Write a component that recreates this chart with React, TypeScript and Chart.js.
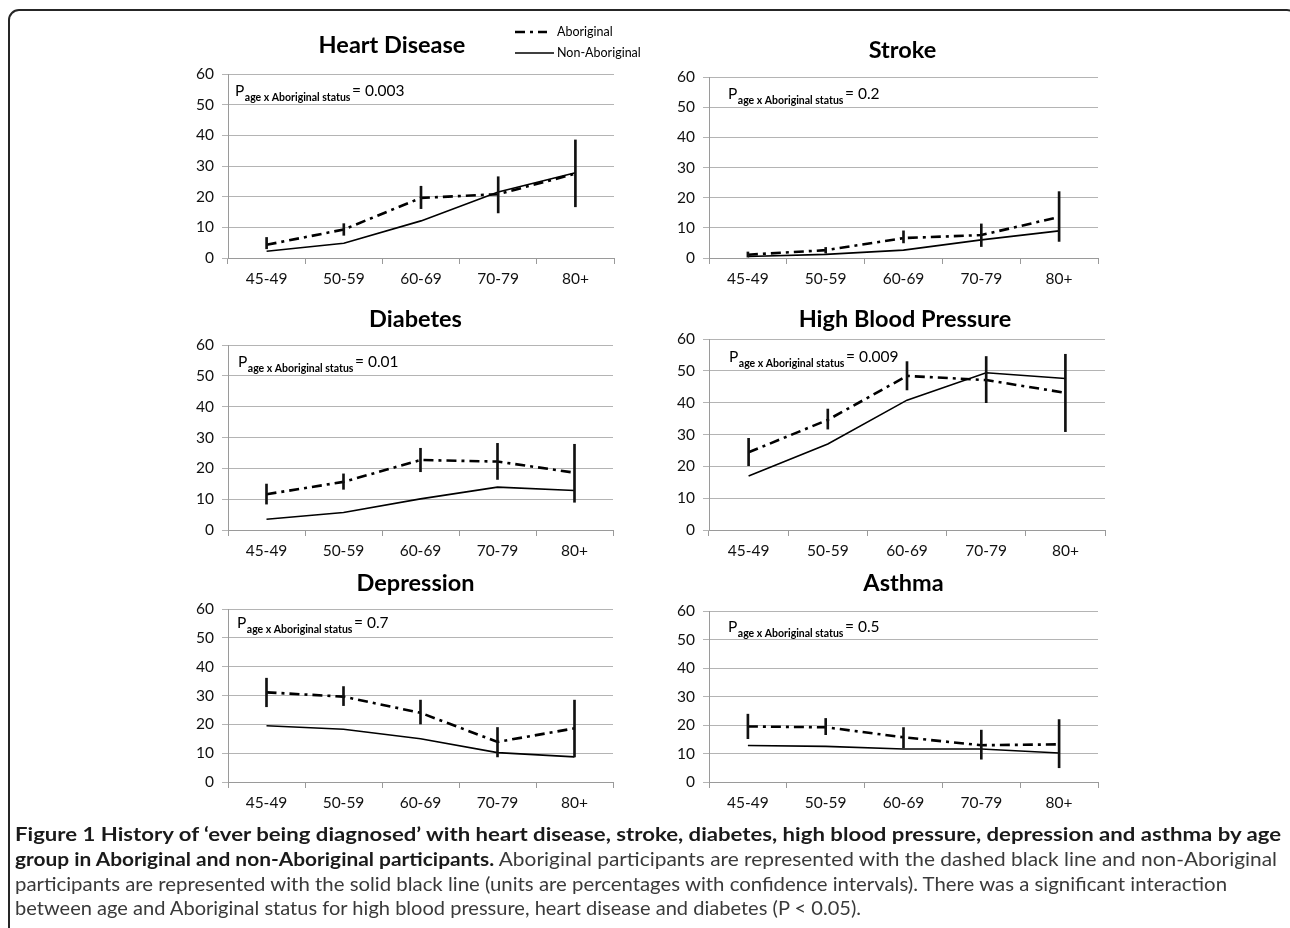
import React, { useEffect, useLayoutEffect, useRef } from "react";
import { Chart, registerables } from "chart.js";

Chart.register(...registerables);

// ---------- data ----------
const ageGroups = ["45-49", "50-59", "60-69", "70-79", "80+"];
const yTickValues = [0, 10, 20, 30, 40, 50, 60];
const seriesNames = ["Aboriginal", "Non-Aboriginal"];
const panelTitles = ["Heart Disease", "Stroke", "Diabetes", "High Blood Pressure", "Depression", "Asthma"];
const interactionP = ["0.003", "0.2", "0.01", "0.009", "0.7", "0.5"];

const heartAboriginal = [4.3, 9.3, 19.6, 20.8, 27.5];
const heartNonAboriginal = [2.2, 4.8, 12.1, 21.5, 27.8];
const heartCiLow = [3.0, 7.4, 16.1, 14.7, 16.7];
const heartCiHigh = [6.7, 11.2, 23.4, 26.5, 38.5];

const strokeAboriginal = [1.1, 2.6, 6.6, 7.6, 13.6];
const strokeNonAboriginal = [0.5, 1.2, 2.6, 6.0, 9.0];
const strokeCiLow = [0.3, 1.6, 5.0, 3.8, 5.5];
const strokeCiHigh = [2.0, 3.5, 9.0, 11.3, 22.0];

const diabetesAboriginal = [11.6, 15.6, 22.7, 22.2, 18.6];
const diabetesNonAboriginal = [3.5, 5.7, 10.1, 13.9, 12.8];
const diabetesCiLow = [8.4, 13.2, 18.9, 16.4, 9.0];
const diabetesCiHigh = [14.9, 18.2, 26.5, 28.1, 27.8];

const bpAboriginal = [24.4, 34.6, 48.4, 47.1, 43.1];
const bpNonAboriginal = [17.0, 27.0, 40.8, 49.4, 47.6];
const bpCiLow = [20.2, 31.7, 44.0, 40.0, 30.9];
const bpCiHigh = [28.8, 38.0, 52.9, 54.5, 55.2];

const depressionAboriginal = [31.1, 29.6, 24.0, 13.9, 18.6];
const depressionNonAboriginal = [19.5, 18.3, 15.0, 10.2, 8.7];
const depressionCiLow = [26.1, 26.5, 20.1, 8.7, 8.7];
const depressionCiHigh = [36.0, 33.1, 28.4, 18.9, 28.4];

const asthmaAboriginal = [19.5, 19.2, 15.7, 12.9, 13.2];
const asthmaNonAboriginal = [12.8, 12.5, 11.6, 11.6, 10.2];
const asthmaCiLow = [15.2, 16.6, 12.0, 8.0, 5.0];
const asthmaCiHigh = [23.8, 22.3, 19.1, 18.2, 21.9];

const aboriginalSeries = [heartAboriginal, strokeAboriginal, diabetesAboriginal, bpAboriginal, depressionAboriginal, asthmaAboriginal];
const nonAboriginalSeries = [heartNonAboriginal, strokeNonAboriginal, diabetesNonAboriginal, bpNonAboriginal, depressionNonAboriginal, asthmaNonAboriginal];
const ciLowSeries = [heartCiLow, strokeCiLow, diabetesCiLow, bpCiLow, depressionCiLow, asthmaCiLow];
const ciHighSeries = [heartCiHigh, strokeCiHigh, diabetesCiHigh, bpCiHigh, depressionCiHigh, asthmaCiHigh];

// ---------- layout (page pixels of each plot area, plus text offsets) ----------
const panelLayout = [
  { l: 228, t: 74, r: 614, b: 258, titleDx: -29, titleDy: -21, pDx: 7, pDy: 22, legend: true },
  { l: 709, t: 77, r: 1098, b: 258, titleDx: -1, titleDy: -19, pDx: 19, pDy: 22, legend: false },
  { l: 228, t: 345, r: 613, b: 530, titleDx: -5, titleDy: -18, pDx: 10, pDy: 22, legend: false },
  { l: 709, t: 339, r: 1105, b: 530, titleDx: -2, titleDy: -12, pDx: 20, pDy: 23, legend: false },
  { l: 228, t: 609, r: 613, b: 782, titleDx: -5, titleDy: -18, pDx: 9, pDy: 19, legend: false },
  { l: 709, t: 611, r: 1098, b: 782, titleDx: 0, titleDy: -20, pDx: 19, pDy: 21, legend: false },
];

const PAD_L = 50, PAD_T = 60, PAD_R = 40, PAD_B = 40;
const FONT = "Lato, 'Noto Sans', sans-serif";

const decorPlugin = {
  id: "panelDecor",
  afterDraw(chart: any, _args: any, opts: any) {
    const { ctx, chartArea: a } = chart;
    ctx.save();
    ctx.fillStyle = "#000";
    // title
    ctx.font = `bold 23.5px ${FONT}`;
    ctx.textAlign = "center";
    ctx.textBaseline = "alphabetic";
    ctx.fillText(opts.title, (a.left + a.right) / 2 + opts.titleDx, a.top + opts.titleDy);
    // P annotation
    let x = a.left + opts.pDx;
    const y = a.top + opts.pDy;
    ctx.textAlign = "left";
    ctx.font = `15.5px ${FONT}`;
    ctx.fillText("P", x, y);
    x += ctx.measureText("P").width + 0.5;
    ctx.font = `bold 10.5px ${FONT}`;
    const sub = "age x Aboriginal status";
    ctx.fillText(sub, x, y + 4.5);
    x += ctx.measureText(sub).width + 1.5;
    ctx.font = `15.5px ${FONT}`;
    ctx.fillText("= " + opts.p, x, y);
    // legend
    if (opts.legend) {
      const ds = chart.data.datasets;
      const rows = [
        { i: 0, dy: -42, len: 32 },
        { i: 1, dy: -21, len: 39 },
      ];
      rows.forEach((row) => {
        const d = ds[row.i];
        const ly = a.top + row.dy;
        const lx = a.left + 287;
        ctx.beginPath();
        ctx.setLineDash(d.borderDash || []);
        ctx.lineWidth = d.borderWidth;
        ctx.strokeStyle = d.borderColor;
        ctx.moveTo(lx, ly);
        ctx.lineTo(lx + row.len, ly);
        ctx.stroke();
        ctx.setLineDash([]);
        ctx.font = `12.5px ${FONT}`;
        ctx.textBaseline = "middle";
        ctx.fillText(d.label, a.left + 329, ly);
      });
    }
    ctx.restore();
  },
};

function Panel({ index }: { index: number }) {
  const ref = useRef<HTMLCanvasElement | null>(null);
  const lay = panelLayout[index];
  const width = lay.r - lay.l + PAD_L + PAD_R;
  const height = lay.b - lay.t + PAD_T + PAD_B;

  useEffect(() => {
    if (!ref.current) return;
    const lows = ciLowSeries[index];
    const highs = ciHighSeries[index];
    const chart = new Chart(ref.current, {
      type: "line",
      data: {
        labels: ageGroups,
        datasets: [
          {
            type: "line",
            label: seriesNames[0],
            data: aboriginalSeries[index],
            borderColor: "#000",
            borderWidth: 2.6,
            borderDash: [10, 5, 3, 5],
            pointRadius: 0,
            tension: 0,
            fill: false,
            order: 2,
          },
          {
            type: "line",
            label: seriesNames[1],
            data: nonAboriginalSeries[index],
            borderColor: "#000",
            borderWidth: 1.6,
            pointRadius: 0,
            tension: 0,
            fill: false,
            order: 3,
          },
          {
            type: "bar",
            label: "CI",
            data: lows.map((lo, i) => [lo, highs[i]]),
            backgroundColor: "#111",
            borderWidth: 0,
            barThickness: 2,
            order: 1,
          } as any,
        ],
      },
      options: {
        animation: false,
        responsive: false,
        events: [],
        layout: { padding: { left: PAD_L - 40, top: PAD_T, right: PAD_R, bottom: PAD_B - 30 } },
        plugins: {
          legend: { display: false },
          tooltip: { enabled: false },
          title: { display: false },
          panelDecor: {
            title: panelTitles[index],
            p: interactionP[index],
            titleDx: lay.titleDx,
            titleDy: lay.titleDy,
            pDx: lay.pDx,
            pDy: lay.pDy,
            legend: lay.legend,
          },
        } as any,
        scales: {
          x: {
            type: "category",
            offset: true,
            grid: { offset: true, drawOnChartArea: false, drawTicks: true, tickLength: 6, color: "#9a9a9a" },
            border: { display: true, color: "#9a9a9a" },
            ticks: { font: { family: FONT, size: 15.5 }, color: "#111", padding: 6, maxRotation: 0, autoSkip: false },
            afterFit: (s: any) => {
              s.height = 30;
            },
          },
          y: {
            min: yTickValues[0],
            max: yTickValues[yTickValues.length - 1],
            grid: { color: "#b4b4b4", tickLength: 6 },
            border: { display: true, color: "#9a9a9a" },
            ticks: { font: { family: FONT, size: 15.5 }, color: "#111", padding: 8 },
            afterBuildTicks: (s: any) => {
              s.ticks = yTickValues.map((v) => ({ value: v }));
            },
            afterFit: (s: any) => {
              s.width = 40;
            },
          },
        } as any,
      },
      plugins: [decorPlugin as any],
    });
    return () => chart.destroy();
  }, [index]);

  return (
    <canvas
      ref={ref}
      width={width}
      height={height}
      style={{ position: "absolute", left: lay.l - PAD_L, top: lay.t - PAD_T, width, height }}
    />
  );
}

const captionLines = [
  {
    bold: "Figure 1 History of \u2018ever being diagnosed\u2019 with heart disease, stroke, diabetes, high blood pressure, depression and asthma by age",
    rest: "",
    target: 1266,
  },
  {
    bold: "group in Aboriginal and non-Aboriginal participants.",
    rest: " Aboriginal participants are represented with the dashed black line and non-Aboriginal",
    target: 1262,
  },
  {
    bold: "",
    rest: "participants are represented with the solid black line (units are percentages with confidence intervals). There was a significant interaction",
    target: 1212,
  },
  {
    bold: "",
    rest: "between age and Aboriginal status for high blood pressure, heart disease and diabetes (P < 0.05).",
    target: 846,
  },
];
const captionCenters = [833, 858, 883, 907];

export default function App() {
  const lineRefs = useRef<(HTMLSpanElement | null)[]>([]);

  useLayoutEffect(() => {
    document.body.style.margin = "0";
    const fit = () => {
      lineRefs.current.forEach((el, i) => {
        if (!el) return;
        el.style.transform = "none";
        const w = el.getBoundingClientRect().width;
        if (w > 0) el.style.transform = `scaleX(${captionLines[i].target / w})`;
      });
    };
    fit();
    if ((document as any).fonts && (document as any).fonts.ready) (document as any).fonts.ready.then(fit);
  }, []);

  return (
    <div
      style={{
        position: "fixed",
        left: 0,
        top: 0,
        width: 1290,
        height: 928,
        overflow: "hidden",
        background: "#fff",
        fontFamily: FONT,
      }}
    >
      <div
        style={{
          position: "absolute",
          left: 8,
          top: 9,
          width: 1290,
          height: 1000,
          boxSizing: "border-box",
          border: "2px solid #262626",
          borderRadius: "11px 11px 0 0",
        }}
      />
      {panelLayout.map((_, i) => (
        <Panel key={i} index={i} />
      ))}
      {captionLines.map((ln, i) => (
        <span
          key={i}
          ref={(el) => {
            lineRefs.current[i] = el;
          }}
          style={{
            position: "absolute",
            left: 15,
            top: captionCenters[i] - 12.5,
            lineHeight: "25px",
            fontSize: 19,
            whiteSpace: "nowrap",
            transformOrigin: "0 50%",
            color: "#3a3a3a",
            display: "inline-block",
          }}
        >
          {ln.bold ? <b style={{ color: "#1a1a1a" }}>{ln.bold}</b> : null}
          {ln.rest}
        </span>
      ))}
    </div>
  );
}
